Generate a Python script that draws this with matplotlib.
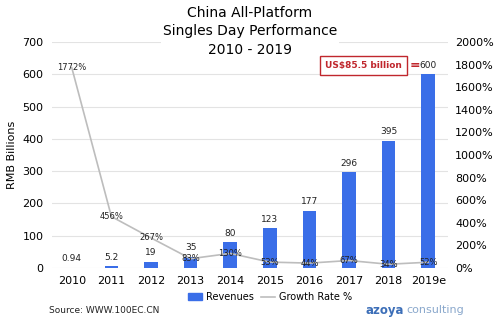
import matplotlib.pyplot as plt
import numpy as np
from matplotlib.patches import Patch
from matplotlib.lines import Line2D

years = ["2010", "2011", "2012", "2013", "2014", "2015", "2016", "2017", "2018", "2019e"]
revenues = [0.94, 5.2, 19, 35, 80, 123, 177, 296, 395, 600]
rev_labels = ["0.94", "5.2", "19", "35", "80", "123", "177", "296", "395", "600"]
growth = [1772, 456, 267, 83, 130, 53, 44, 67, 34, 52]

blue = "#3a6ee8"
grey_line = "#bdbdbd"

plt.rcParams['font.family'] = ['DejaVu Sans']

fig = plt.figure(figsize=(5, 3.23), dpi=100)
ax = fig.add_axes([0.104, 0.170, 0.792, 0.700])
ax2 = ax.twinx()

x = np.arange(len(years))
ax.bar(x, revenues, width=0.34, color=blue, zorder=2)
ax.set_ylim(0, 700)
ax.set_yticks(range(0, 701, 100))
ax.set_xlim(-0.5, 9.5)
ax.set_xticks(x)
ax.set_xticklabels(years)
ax.grid(axis='y', color='#e3e3e3', linewidth=0.8, zorder=0)
ax.set_axisbelow(True)
for s in ax.spines.values():
    s.set_visible(False)
for s in ax2.spines.values():
    s.set_visible(False)
ax.tick_params(length=0, labelsize=8, pad=6)
ax.set_ylabel("RMB Billions", fontsize=8, labelpad=4)

for xi, v, lab in zip(x, revenues, rev_labels):
    ax.text(xi, v + 14, lab, ha='center', va='bottom', fontsize=6.5, color='#222222')

ax2.plot(x, growth, color=grey_line, linewidth=1.2, zorder=3)
ax2.set_ylim(0, 2000)
ax2.set_yticks(range(0, 2001, 200))
ax2.set_yticklabels([f"{v}%" for v in range(0, 2001, 200)])
ax2.tick_params(length=0, labelsize=8, pad=5)
for xi, g in zip(x, growth):
    ax2.text(xi, g, f"{g}%", ha='center', va='center', fontsize=6, color='#222222', zorder=4)

# title sits on the upper axes so its white box hides the top gridline but not the callout
ax2.text(0.5, 0.824, "China All-Platform\nSingles Day Performance\n2010 - 2019", ha='center', va='bottom',
         fontsize=10, linespacing=1.4, transform=fig.transFigure, zorder=1, clip_on=False,
         bbox=dict(facecolor='white', edgecolor='none', pad=1))

# callout for the 2019 estimate
ax2.text(6.4, 628 / 0.35, "US$85.5 billion", ha='left', va='center', fontsize=6.5, fontweight='bold',
         color='#c0272d', zorder=6, bbox=dict(facecolor='white', edgecolor='#c0272d', linewidth=1, pad=3.5))
ax2.text(8.67, 628 / 0.35, "=", ha='center', va='center', fontsize=9, fontweight='bold', color='#c0272d', zorder=6)

handles = [Patch(color=blue, label="Revenues"), Line2D([], [], color=grey_line, linewidth=1.2, label="Growth Rate %")]
fig.legend(handles=handles, loc='center', bbox_to_anchor=(0.54, 0.08), ncol=2, frameon=False,
           fontsize=7, handlelength=1.4, columnspacing=0.8, handletextpad=0.4)

fig.text(0.098, 0.04, "Source: WWW.100EC.CN", fontsize=6.5, ha='left', va='center', color='#222222')
fig.text(0.73, 0.04, "azoya", fontsize=8.5, fontweight='bold', ha='left', va='center', color='#3d6fb8')
fig.text(0.812, 0.04, "consulting", fontsize=8, ha='left', va='center', color='#8aa8cc')

fig.savefig("out.png", dpi=100)
